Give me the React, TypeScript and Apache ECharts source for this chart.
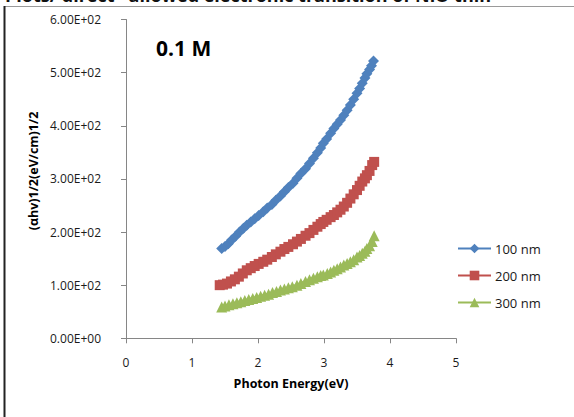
import React, { useEffect, useRef } from "react";
import * as echarts from "echarts";

// Photon energy (eV) and (αhν)^1/2 values for each film thickness
const energy100 = [1.45, 1.5, 1.55, 1.6, 1.66, 1.72, 1.78, 1.83, 1.89, 1.95, 2.01, 2.08, 2.14, 2.21, 2.27, 2.34, 2.4, 2.46, 2.53, 2.59, 2.65, 2.72, 2.78, 2.84, 2.9, 2.95, 2.99, 3.04, 3.1, 3.15, 3.2, 3.25, 3.3, 3.35, 3.4, 3.45, 3.5, 3.54, 3.58, 3.62, 3.65, 3.69, 3.72, 3.75];
const value100 = [169, 173, 178, 185, 192, 200, 207, 213, 219, 225, 231, 238, 245, 252, 260, 268, 276, 284, 292, 301, 310, 319, 329, 339, 349, 358, 367, 375, 386, 395, 403, 411, 420, 429, 439, 450, 461, 470, 480, 490, 498, 506, 513, 522];

const energy200 = [1.42, 1.47, 1.53, 1.59, 1.65, 1.71, 1.77, 1.83, 1.89, 1.95, 2.01, 2.08, 2.14, 2.21, 2.27, 2.34, 2.4, 2.46, 2.53, 2.59, 2.65, 2.72, 2.78, 2.84, 2.9, 2.95, 2.99, 3.04, 3.1, 3.15, 3.2, 3.25, 3.3, 3.35, 3.4, 3.45, 3.5, 3.54, 3.58, 3.62, 3.65, 3.69, 3.73, 3.76];
const value200 = [100, 101, 103, 107, 111, 116, 122, 128, 132, 136, 140, 144, 148, 153, 158, 163, 168, 172, 177, 182, 187, 193, 198, 204, 210, 215, 219, 223, 228, 232, 237, 242, 248, 255, 263, 271, 279, 287, 295, 301, 307, 315, 326, 332];

const energy300 = [1.45, 1.5, 1.56, 1.62, 1.68, 1.74, 1.8, 1.86, 1.92, 1.98, 2.04, 2.1, 2.16, 2.22, 2.28, 2.34, 2.4, 2.46, 2.52, 2.59, 2.65, 2.72, 2.78, 2.84, 2.9, 2.95, 2.99, 3.05, 3.1, 3.15, 3.2, 3.25, 3.3, 3.35, 3.4, 3.45, 3.5, 3.54, 3.58, 3.62, 3.65, 3.69, 3.73, 3.76];
const value300 = [59, 61, 63, 65, 67, 69, 71, 73, 75, 77, 79, 81, 83, 86, 88, 91, 93, 95, 97, 100, 103, 107, 110, 113, 116, 118, 119, 122, 125, 128, 131, 134, 138, 141, 144, 148, 153, 156, 160, 164, 169, 174, 182, 193];

const seriesNames = ["100 nm", "200 nm", "300 nm"];
const seriesColors = ["#4F81BD", "#C0504D", "#9BBB59"];
const seriesSymbols = ["diamond", "rect", "triangle"];
const seriesSizes = [11, 10, 11];

const FONT = "'Open Sans', sans-serif";

const pairs = (xs: number[], ys: number[]) => xs.map((x, i) => [x, ys[i]]);

// Excel-style scientific notation, e.g. 5.00E+02
const sci = (v: number) => {
  if (v === 0) return "0.00E+00";
  const e = Math.floor(Math.log10(Math.abs(v)));
  const m = v / Math.pow(10, e);
  return m.toFixed(2) + "E" + (e < 0 ? "-" : "+") + String(Math.abs(e)).padStart(2, "0");
};

export default function App() {
  const ref = useRef<HTMLDivElement>(null);

  useEffect(() => {
    if (!ref.current) return;
    const chart = echarts.init(ref.current, undefined, { renderer: "svg" });
    const data = [pairs(energy100, value100), pairs(energy200, value200), pairs(energy300, value300)];

    chart.setOption({
      animation: false,
      backgroundColor: "#ffffff",
      grid: { left: 126, top: 19.5, right: 118, bottom: 78.7, containLabel: false },
      xAxis: {
        type: "value",
        min: 0,
        max: 5,
        interval: 1,
        axisLine: { show: true, lineStyle: { color: "#868686", width: 1 } },
        axisTick: { show: true, length: 5, lineStyle: { color: "#868686" } },
        splitLine: { show: false },
        axisLabel: { margin: 18, fontFamily: FONT, fontSize: 12, color: "#1a1a1a" },
      },
      yAxis: {
        type: "value",
        min: 0,
        max: 600,
        interval: 100,
        axisLine: { show: true, lineStyle: { color: "#868686", width: 1 } },
        axisTick: { show: true, length: 5, lineStyle: { color: "#868686" } },
        splitLine: { show: false },
        axisLabel: { margin: 25, fontFamily: FONT, fontSize: 12, color: "#1a1a1a", formatter: sci },
      },
      legend: {
        orient: "vertical",
        left: 452,
        top: 237,
        itemWidth: 33,
        itemHeight: 12,
        itemGap: 14,
        data: seriesNames,
        textStyle: { fontFamily: FONT, fontSize: 13, color: "#1a1a1a", padding: [0, 0, 0, -1] },
      },
      graphic: [
        {
          type: "text",
          x: 5,
          y: -5,
          style: {
            text: "Plots/ direct   allowed electronic transition of NiO thin",
            fontFamily: FONT,
            fontWeight: "bold",
            fontSize: 18,
            fill: "#111",
            textVerticalAlign: "middle",
          },
        },
        { type: "line", shape: { x1: 4, y1: 6.5, x2: 574, y2: 6.5 }, style: { stroke: "#9a9a9a", lineWidth: 1 } },
        { type: "line", shape: { x1: 4.5, y1: 6, x2: 4.5, y2: 417 }, style: { stroke: "#222", lineWidth: 2 } },
        {
          type: "text",
          x: 156,
          y: 48,
          style: {
            text: "0.1 M",
            fontFamily: FONT,
            fontWeight: "bold",
            fontSize: 21,
            fill: "#000",
            textVerticalAlign: "middle",
          },
        },
        {
          type: "text",
          x: 33,
          y: 171,
          rotation: Math.PI / 2,
          style: {
            text: "(αhv)1/2(eV/cm)1/2",
            fontFamily: FONT,
            fontWeight: "bold",
            fontSize: 12.5,
            fill: "#000",
            textAlign: "center",
            textVerticalAlign: "middle",
          },
        },
        {
          type: "text",
          x: 291,
          y: 383,
          style: {
            text: "Photon Energy(eV)",
            fontFamily: FONT,
            fontWeight: "bold",
            fontSize: 12.5,
            fill: "#000",
            textAlign: "center",
            textVerticalAlign: "middle",
          },
        },
      ],
      series: seriesNames.map((name, i) => ({
        name,
        type: "line",
        data: data[i],
        symbol: seriesSymbols[i],
        symbolSize: seriesSizes[i],
        showAllSymbol: true,
        color: seriesColors[i],
        itemStyle: { color: seriesColors[i] },
        lineStyle: { color: seriesColors[i], width: 3 },
        z: 3 - i,
      })),
    });

    return () => chart.dispose();
  }, []);

  return (
    <div
      ref={ref}
      style={{ position: "fixed", left: 0, top: 0, width: 574, height: 417, background: "#fff" }}
    />
  );
}
